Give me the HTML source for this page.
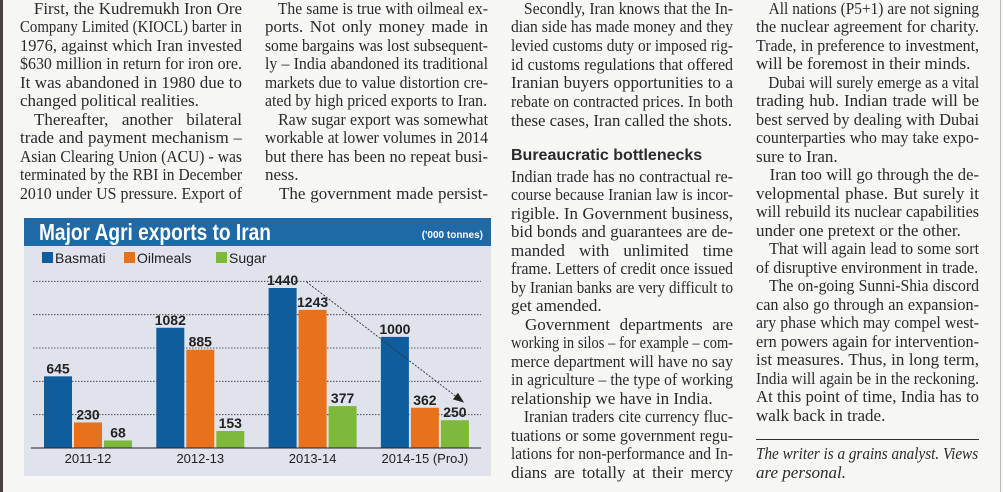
<!DOCTYPE html>
<html><head><meta charset="utf-8">
<style>
html,body{margin:0;padding:0}
body{width:1003px;height:492px;background:#f6f6f5;position:relative;overflow:hidden;font-family:"Liberation Serif",serif;color:#2a2a2a}
.bl{position:absolute;left:0;top:0;width:3px;height:492px;background:#4a4440}
.br{position:absolute;left:1000px;top:0;width:1px;height:492px;background:#bbb}
.col{position:absolute;top:0}
.ln{position:absolute;left:0;height:19px;line-height:19px;font-size:17px;white-space:nowrap;text-align:justify;text-align-last:justify;box-sizing:border-box;transform-origin:0 50%}
.ln.last{text-align-last:left}
.hd{font-family:"Liberation Sans",sans-serif;font-weight:bold;font-size:16px;position:absolute;white-space:nowrap}
.it{font-style:italic}
#chart{position:absolute;left:24px;top:218px;width:467px;height:258px;background:#dfe3ec}
svg text{font-family:"Liberation Sans",sans-serif}
#meas{position:absolute;left:-2000px;top:0;white-space:nowrap;font-size:17px;font-family:"Liberation Serif",serif}
</style></head><body>
<div class="bl"></div>
<div class="br"></div>
<span id="meas"></span>

<div class="col" id="c1" style="left:20px;width:222px"></div>
<div class="col" id="c2" style="left:265px;width:223px"></div>
<div class="col" id="c3" style="left:511px;width:222px"></div>
<div class="col" id="c4" style="left:756px;width:223px"></div>

<div id="chart">
<svg id="svg" width="467" height="258" xmlns="http://www.w3.org/2000/svg"></svg>
</div>

<script>
var meas=document.getElementById('meas');
function mk(col, lines){
  var c=document.getElementById(col);
  var W=parseFloat(c.style.width);
  lines.forEach(function(l){
    var d=document.createElement('div');
    
    
    d.textContent=l.t;
    if(l.hd){d.className='hd';d.style.top=(l.y-10)+'px';c.appendChild(d);return;}
    d.className='ln'+(l.last?' last':'')+(l.it?' it':'');
    d.style.top=(l.y-9.5)+'px';
    var ind=l.ind?14:0;
    d.style.paddingLeft=ind+'px';
    meas.style.fontStyle=l.it?'italic':'normal';
    meas.textContent=l.t;
    var nw=meas.getBoundingClientRect().width;
    var avail=W-ind;
    if(nw>avail-1){
      d.style.width=(nw+ind+1)+'px';
      d.style.transform='scaleX('+(W/(nw+ind+1))+')';
    } else d.style.width=W+'px';
    c.appendChild(d);
  });
}
function L(y0,step,arr){return arr.map(function(a,i){var o={y:y0+step*i,t:a[0]};if(a[1])for(var k in a[1])o[k]=a[1][k];return o;});}
var P={ind:1},E={last:1};
mk('c1',L(8,18.5,[
 ["First, the Kudremukh Iron Ore",P],["Company Limited (KIOCL) barter in"],["1976, against which Iran invested"],["$630 million in return for iron ore."],["It was abandoned in 1980 due to"],["changed political realities.",E],
 ["Thereafter, another bilateral",P],["trade and payment mechanism –"],["Asian Clearing Union (ACU) - was"],["terminated by the RBI in December"],["2010 under US pressure. Export of"]]));
mk('c2',L(8,18.5,[
 ["The same is true with oilmeal ex-",P],["ports. Not only money made in"],["some bargains was lost subsequent-"],["ly – India abandoned its traditional"],["markets due to value distortion cre-"],["ated by high priced exports to Iran.",E],
 ["Raw sugar export was somewhat",P],["workable at lower volumes in 2014"],["but there has been no repeat busi-"],["ness.",E],["The government made persist-",P]]));
mk('c3',L(8,18.7,[
 ["Secondly, Iran knows that the In-",P],["dian side has made money and they"],["levied customs duty or imposed rig-"],["id customs regulations that offered"],["Iranian buyers opportunities to a"],["rebate on contracted prices. In both"],["these cases, Iran called the shots.",E]]).concat(
 [{y:157,t:"Bureaucratic bottlenecks",hd:1}]).concat(L(176,18.5,[
 ["Indian trade has no contractual re-"],["course because Iranian law is incor-"],["rigible. In Government business,"],["bid bonds and guarantees are de-"],["manded with unlimited time"],["frame. Letters of credit once issued"],["by Iranian banks are very difficult to"],["get amended.",E],
 ["Government departments are",P],["working in silos – for example – com-"],["merce department will have no say"],["in agriculture – the type of working"],["relationship we have in India.",E],
 ["Iranian traders cite currency fluc-",P],["tuations or some government regu-"],["lations for non-performance and In-"],["dians are totally at their mercy"]])));
mk('c4',L(8,18.5,[
 ["All nations (P5+1) are not signing",P],["the nuclear agreement for charity."],["Trade, in preference to investment,"],["will be foremost in their minds.",E],
 ["Dubai will surely emerge as a vital",P],["trading hub. Indian trade will be"],["best served by dealing with Dubai"],["counterparties who may take expo-"],["sure to Iran.",E],
 ["Iran too will go through the de-",P],["velopmental phase. But surely it"],["will rebuild its nuclear capabilities"],["under one pretext or the other.",E],
 ["That will again lead to some sort",P],["of disruptive environment in trade.",E],
 ["The on-going Sunni-Shia discord",P],["can also go through an expansion-"],["ary phase which may compel west-"],["ern powers again for intervention-"],["ist measures. Thus, in long term,"],["India will again be in the reckoning."],["At this point of time, India has to"],["walk back in trade.",E]]).concat(
 [{y:453,t:"The writer is a grains analyst. Views",it:1,last:1},{y:472,t:"are personal.",it:1,last:1}]));
</script>
<div style="position:absolute;left:756px;top:439px;width:223px;height:1px;background:#333"></div>

<script>
var categories=["2011-12","2012-13","2013-14","2014-15 (ProJ)"];
var basmati=[645,1082,1440,1000];
var oilmeals=[230,885,1243,362];
var sugar=[68,153,377,250];
var gridValues=[300,600,900,1200,1500];
var seriesNames=["Basmati","Oilmeals","Sugar"];
var colors=["#105d9d","#e8721c","#7fb93b"];
var NS="http://www.w3.org/2000/svg";
var svg=document.getElementById('svg');
function el(t,a,p){var e=document.createElementNS(NS,t);for(var k in a)e.setAttribute(k,a[k]);(p||svg).appendChild(e);return e;}
var baseY=230, pxPer=160/1440;
function y(v){return baseY-v*pxPer;}
function gx(i){return 20+i*112.3;}
var h=el('rect',{x:0,y:0,width:467,height:28,fill:'#1f69a7'});


var t=el('text',{x:15,y:22,fill:'#fff','font-size':23,'font-weight':'bold',textLength:232,lengthAdjust:'spacingAndGlyphs'});t.textContent='Major Agri exports to Iran';


var u=el('text',{x:459,y:20,fill:'#fff','font-size':10,'font-weight':'bold','text-anchor':'end'});u.textContent="('000 tonnes)";


var lx=[18,100,192];
seriesNames.forEach(function(n,i){
  var g=el('g',{});
  
  
  el('rect',{x:lx[i],y:34,width:11,height:11,fill:colors[i]},g);
  var tt=el('text',{x:lx[i]+13,y:45,fill:'#222','font-size':14},g);tt.textContent=n;
});
gridValues.forEach(function(v){
  var l=el('line',{x1:9,x2:457,y1:y(v),y2:y(v),stroke:'#333','stroke-width':0.8,'stroke-dasharray':'1.5 1.5'});
  
  
});
var series=[basmati,oilmeals,sugar];
categories.forEach(function(c,i){
  series.forEach(function(s,j){
    var x=gx(i)+j*30, v=s[i];
    var r=el('rect',{x:x,y:y(v),width:28,height:baseY-y(v),fill:colors[j]});
    
    
    var lb=el('text',{x:x+14,y:y(v)-3,'font-size':14,'font-weight':'bold','text-anchor':'middle',fill:'#222'});
    lb.textContent=v;
    
    
  });
  var cl=el('text',{x:gx(i)+44,y:245,'font-size':13,'text-anchor':'middle',fill:'#222'});
  cl.textContent=c;
  
  
});
var ax=el('line',{x1:7,x2:457,y1:baseY,y2:baseY,stroke:'#222','stroke-width':1});


var x1=gx(2)+14+24,y1=y(basmati[2])-6,x2=gx(3)+60+20,y2=y(sugar[3])-20;
var ar=el('line',{x1:x1,y1:y1,x2:x2,y2:y2,stroke:'#333','stroke-width':0.9,'stroke-dasharray':'2 1.5'});


var ang=Math.atan2(y2-y1,x2-x1);
function pt(a,r){return (x2+Math.cos(a)*r)+','+(y2+Math.sin(a)*r);}
var hd=el('polygon',{points:(x2+Math.cos(ang)*4)+','+(y2+Math.sin(ang)*4)+' '+pt(ang+2.6,8)+' '+pt(ang-2.6,8),fill:'#222'});


</script>
</body></html>
